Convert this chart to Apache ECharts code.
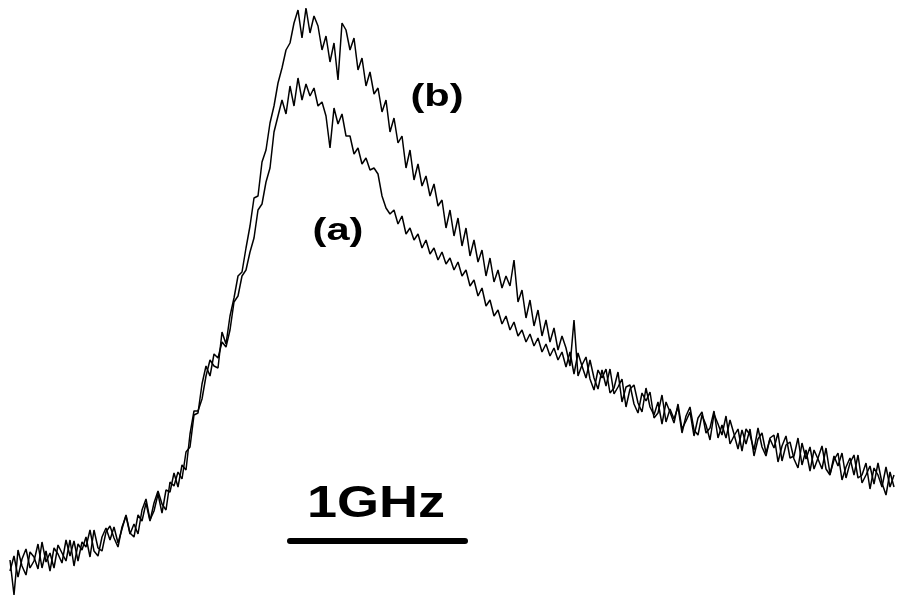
<!DOCTYPE html>
<html>
<head>
<meta charset="utf-8">
<script src="https://cdn.jsdelivr.net/npm/echarts@6/dist/echarts.min.js"></script>
<style>html,body{margin:0;padding:0;background:#fff}#c{width:898px;height:598px}</style>
</head>
<body>
<div id="c"></div>
<script>
// Intensity (a.u.), one sample every channel
const seriesB = [
38,3,48,32,23,46,41,29,56,36,
45,30,53,45,37,58,32,54,48,61,
41,68,50,47,66,72,60,51,71,82,
64,74,64,88,99,78,87,104,85,108,
106,125,111,133,128,164,187,187,199,222,
238,232,230,266,254,
282,300,322,326,350,372,400,402,436,448,
475,492,515,530,548,555,575,588,560,590,
565,582,572,548,562,536,555,518,575,568,
548,560,528,540,512,526,504,510,486,498,
466,480,455,462,430,448,418,434,412,422,
402,414,392,398,370,388,362,380,352,370,
342,358,336,348,322,340,316,328,310,322,
312,338,296,308,280,298,272,288,262,278,
256,270,248,262,
250,232,278,222,233,241,219,208,228,220,
229,205,210,226,196,211,213,194,185,205,
197,206,180,185,203,176,189,179,191,165,
182,191,168,163,183,173,158,184,174,163,
182,154,162,169,147,169,163,148,170,151,
142,160,163,136,152,162,140,142,160,133,
148,127,148,139,129,150,124,138,145,118,
131,140,123,143,115,123,132,114,135,115,
103,126,111
];
const seriesA = [
27,42,21,39,49,30,37,54,30,47,
27,50,44,35,58,42,57,37,56,51,
68,47,42,61,70,58,71,55,69,83,
65,61,83,77,95,77,95,107,94,88,
116,112,126,119,146,151,183,185,214,232,
222,244,240,256,251,
268,296,302,322,328,346,360,388,394,416,
430,466,482,498,484,512,492,520,498,514,
502,510,492,496,482,450,490,474,484,462,
462,444,450,434,440,428,430,424,402,390,
384,388,374,382,364,370,358,364,350,358,
344,350,338,346,334,340,328,336,322,328,
312,318,302,310,292,298,282,288,274,282,
268,276,262,268,256,264,252,260,246,254,
242,250,238,246,
231,246,224,245,232,220,238,220,209,228,
212,229,204,211,219,191,209,213,195,186,
210,191,183,196,174,196,186,175,194,169,
177,186,162,180,186,165,170,187,160,173,
160,178,164,149,168,154,169,142,159,165,
145,159,150,165,137,153,156,139,130,155,
139,151,129,140,152,129,123,142,132,145,
120,135,143,120,123,135,109,130,123,111,
131,111,123
];
const channels = seriesA.map((_, i) => i);
const labelA = '(a)';
const labelB = '(b)';
const scaleLabel = '1GHz';

const chart = echarts.init(document.getElementById('c'), null, {renderer: 'canvas'});
const lineStyle = {color: '#000', width: 1.5};
chart.setOption({
  animation: false,
  backgroundColor: '#fff',
  grid: {left: 10, right: 4, top: 0, bottom: 0},
  xAxis: {type: 'category', data: channels, boundaryGap: false, show: false},
  yAxis: {type: 'value', min: 0, max: 598, show: false},
  series: [
    {name: labelA, type: 'line', data: seriesA, symbol: 'none', lineStyle: lineStyle, z: 2},
    {name: labelB, type: 'line', data: seriesB, symbol: 'none', lineStyle: lineStyle, z: 3}
  ],
  graphic: [
    {type: 'text', x: 437, y: 97, scaleX: 1.3, style: {text: labelB, font: 'bold 32px "Liberation Sans", Arial, sans-serif', fill: '#000', textAlign: 'center', textVerticalAlign: 'middle'}},
    {type: 'text', x: 338, y: 231, scaleX: 1.3, style: {text: labelA, font: 'bold 32px "Liberation Sans", Arial, sans-serif', fill: '#000', textAlign: 'center', textVerticalAlign: 'middle'}},
    {type: 'text', x: 376, y: 505, scaleX: 1.2, style: {text: scaleLabel, font: 'bold 45px "Liberation Sans", Arial, sans-serif', fill: '#000', textAlign: 'center', textVerticalAlign: 'middle'}},
    {type: 'line', shape: {x1: 290, y1: 541, x2: 465, y2: 541}, style: {stroke: '#000', lineWidth: 6, lineCap: 'round'}}
  ]
});
</script>
</body>
</html>
